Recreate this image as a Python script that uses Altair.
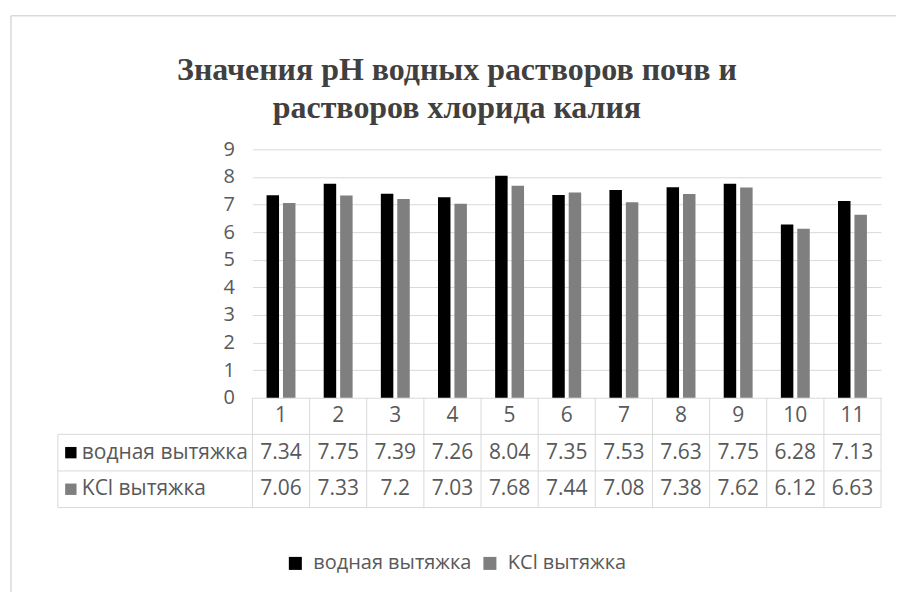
import altair as alt
import pandas as pd

# Sample numbers and pH readings for the two extracts
samples = [str(i) for i in range(1, 12)]
water_ph = [7.34, 7.75, 7.39, 7.26, 8.04, 7.35, 7.53, 7.63, 7.75, 6.28, 7.13]
kcl_ph = [7.06, 7.33, 7.2, 7.03, 7.68, 7.44, 7.08, 7.38, 7.62, 6.12, 6.63]
series = ["водная вытяжка", "KCl вытяжка"]
series_colors = ["#000000", "#7f7f7f"]
title_lines = ["Значения pH водных растворов почв и", "растворов хлорида калия"]
y_ticks = list(range(0, 10))

W, H = 630, 249          # plot area
TH = 110                 # data table height
LABEL_W = 195            # width of the row-label column
TEXT = "#595959"
GRID = "#d9d9d9"
FONT = "Open Sans"
FS = 21

rows = []
for name, vals in zip(series, [water_ph, kcl_ph]):
    for s, v in zip(samples, vals):
        rows.append({"sample": s, "series": name, "value": v, "label": f"{v:g}"})
df = pd.DataFrame(rows)

x_scale = alt.Scale(domain=samples, paddingInner=0, paddingOuter=0)
color_scale = alt.Scale(domain=series, range=series_colors)

# ---- bar panel ----
bars = alt.Chart(df).mark_bar().encode(
    x=alt.X("sample:N", scale=x_scale, sort=samples, axis=None),
    xOffset=alt.XOffset("series:N", sort=series,
                        scale=alt.Scale(domain=series, paddingInner=0.24, paddingOuter=0.86)),
    y=alt.Y("value:Q", scale=alt.Scale(domain=[0, 9], nice=False),
            axis=alt.Axis(values=y_ticks, grid=True, gridColor=GRID, gridWidth=1,
                          domain=False, ticks=False, title=None,
                          labelColor=TEXT, labelFont=FONT, labelFontSize=20,
                          labelPadding=18)),
    color=alt.Color("series:N", scale=color_scale, sort=series,
                    legend=alt.Legend(orient="none", legendX=33, legendY=405,
                                      direction="horizontal", title=None,
                                      symbolType="square", symbolSize=170,
                                      symbolStrokeWidth=0, labelFont=FONT,
                                      labelFontSize=20, labelColor=TEXT,
                                      labelLimit=400,
                                      columnPadding=8, labelOffset=8)),
)

title_df = pd.DataFrame({"t": title_lines, "dy": [-79, -41]})
title = alt.Chart(title_df).mark_text(
    font="Liberation Serif", fontSize=32, fontWeight="bold", color="#404040",
    baseline="middle", align="center",
).encode(x=alt.value(205), y=alt.Y("dy:Q", scale=None), text="t:N")

frame_df = pd.DataFrame({"k": [0]})
frame_left = alt.Chart(frame_df).mark_rule(color=GRID, strokeWidth=1.5).encode(
    x=alt.value(-242), y=alt.value(-134), y2=alt.value(444))
frame_top = alt.Chart(frame_df).mark_rule(color=GRID, strokeWidth=1.5).encode(
    y=alt.value(-134), x=alt.value(-242), x2=alt.value(645))

top = alt.layer(frame_left, frame_top, bars, title).properties(width=W, height=H)

# ---- data table panel ----
row_names = ["№"] + series
y_rows = alt.Scale(domain=row_names, paddingInner=0, paddingOuter=0)
head_df = pd.DataFrame({"sample": samples, "row": "№"})
lab_df = pd.DataFrame({"series": series, "row": series})

head_text = alt.Chart(head_df).mark_text(
    font=FONT, fontSize=FS, color=TEXT, baseline="middle").encode(
    x=alt.X("sample:N", scale=x_scale, sort=samples, axis=None),
    y=alt.Y("row:N", scale=y_rows, axis=None),
    text="sample:N")

val_text = alt.Chart(df.assign(row=df["series"])).mark_text(
    font=FONT, fontSize=FS, color=TEXT, baseline="middle").encode(
    x=alt.X("sample:N", scale=x_scale, sort=samples, axis=None),
    y=alt.Y("row:N", scale=y_rows, axis=None),
    text="label:N")

row_sq = alt.Chart(lab_df).mark_square(size=130, opacity=1).encode(
    x=alt.value(-182),
    y=alt.Y("row:N", scale=y_rows, axis=None),
    color=alt.Color("series:N", scale=color_scale, legend=None))

row_lab = alt.Chart(lab_df).mark_text(
    font=FONT, fontSize=FS, color=TEXT, baseline="middle", align="left").encode(
    x=alt.value(-171),
    y=alt.Y("row:N", scale=y_rows, axis=None),
    text="series:N")

line_style = dict(color=GRID, strokeWidth=1)
h_rows = alt.Chart(lab_df).mark_rule(**line_style).encode(
    y=alt.Y("row:N", scale=y_rows, axis=None, bandPosition=0),
    x=alt.value(-LABEL_W), x2=alt.value(W))
h_bottom = alt.Chart(frame_df).mark_rule(**line_style).encode(
    y=alt.value(TH), x=alt.value(-LABEL_W), x2=alt.value(W))
v_cols = alt.Chart(head_df).mark_rule(**line_style).encode(
    x=alt.X("sample:N", scale=x_scale, sort=samples, axis=None, bandPosition=0),
    y=alt.value(0), y2=alt.value(TH))
v_right = alt.Chart(frame_df).mark_rule(**line_style).encode(
    x=alt.value(W), y=alt.value(0), y2=alt.value(TH))
v_left = alt.Chart(frame_df).mark_rule(**line_style).encode(
    x=alt.value(-LABEL_W), y=alt.value(TH / 3), y2=alt.value(TH))

table = alt.layer(h_rows, h_bottom, v_cols, v_right, v_left,
                  head_text, val_text, row_sq, row_lab).properties(width=W, height=TH)

chart = alt.vconcat(top, table, spacing=0, bounds="flush").properties(
    padding={"left": 10, "top": 14, "right": 0, "bottom": 0},
    background="white",
).configure_view(stroke=None)

chart.save("out.html", embed_options={"renderer": "svg", "actions": False})
